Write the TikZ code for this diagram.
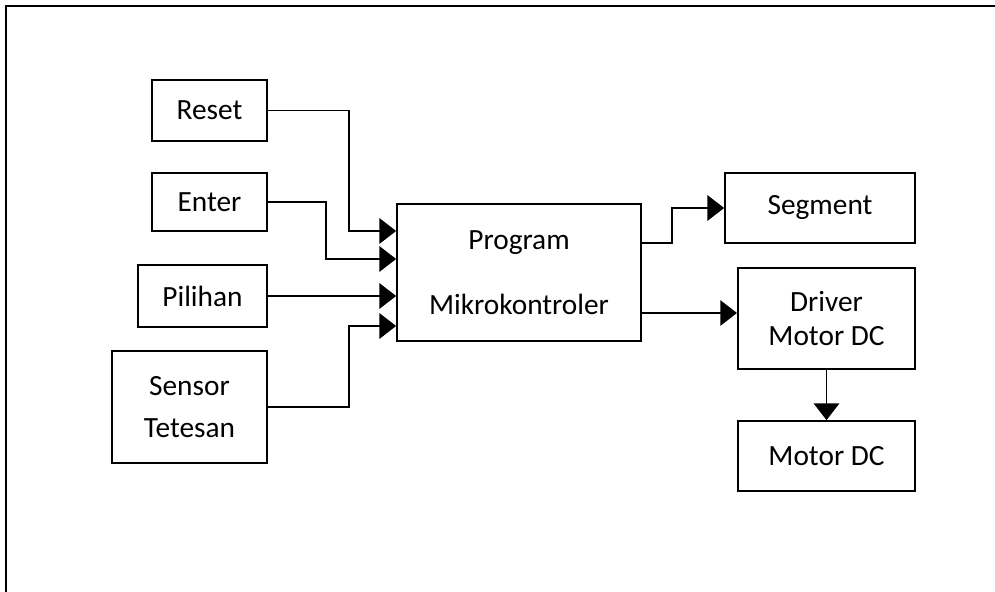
\documentclass[tikz,border=0pt]{standalone}
\usepackage{fontspec}
\setmainfont{Carlito}
\usetikzlibrary{positioning, arrows.meta, calc}

\begin{document}
\begin{tikzpicture}[
                x=0.75pt, y=-0.75pt,
                blok/.style={rectangle, draw, line width=1.3pt, align=center, inner sep=0pt,
                             font=\fontsize{22}{25}\selectfont},
                flow/.style={line width=1.3pt, -{Triangle[length=12.5pt, width=19pt]}}
            ]
                \useasboundingbox (0,0) rectangle (995,592);
                % outer frame, cut off at the right and bottom
                \draw[line width=1.4pt] (995,6) -- (6,6) -- (6,592);

                % Inputs (left)
                \node[blok, minimum width=86pt, minimum height=46pt] (reset) at (209.5,110.5) {Reset};
                \node[blok, minimum width=86pt, minimum height=43.5pt] (enter) at (209.5,202) {Enter};
                \node[blok, minimum width=97pt, minimum height=46.5pt] (pilihan) at (202.5,296) {Pilihan};
                \node[blok, minimum width=116pt, minimum height=84pt] (sensor) at (189.5,407) {Sensor\\[6pt]Tetesan};

                % Controller
                \node[blok, minimum width=183pt, minimum height=103pt] (mcu) at (519,272.5) {Program\\[24pt]Mikrokontroler};

                % Outputs (right)
                \node[blok, minimum width=142.5pt, minimum height=52.5pt] (segment) at (820,208) {Segment};
                \node[blok, minimum width=133pt, minimum height=76pt] (driver) at (826.5,318.5) {Driver\\Motor DC};
                \node[blok, minimum width=133pt, minimum height=52.5pt] (motor) at (826.5,456) {Motor DC};

                % Connectors
                \draw[flow] (reset.east) -- ++(81,0) |- ($(mcu.west)+(0,-41.5)$);
                \draw[flow] (enter.east) -- ++(58,0) |- ($(mcu.west)+(0,-13.5)$);
                \draw[flow] (pilihan.east) -- (pilihan.east -| mcu.west);
                \draw[flow] (sensor.east) -- ++(81,0) |- ($(mcu.west)+(0,53.5)$);
                \draw[flow] ($(mcu.east)+(0,-29.5)$) -- ++(30,0) |- (segment.west);
                \draw[flow] ($(mcu.east |- driver.west)+(0,-5.5)$) -- ($(driver.west)+(0,-5.5)$);
                \draw[flow] (driver.south) -- (motor.north);
            \end{tikzpicture}
\end{document}
